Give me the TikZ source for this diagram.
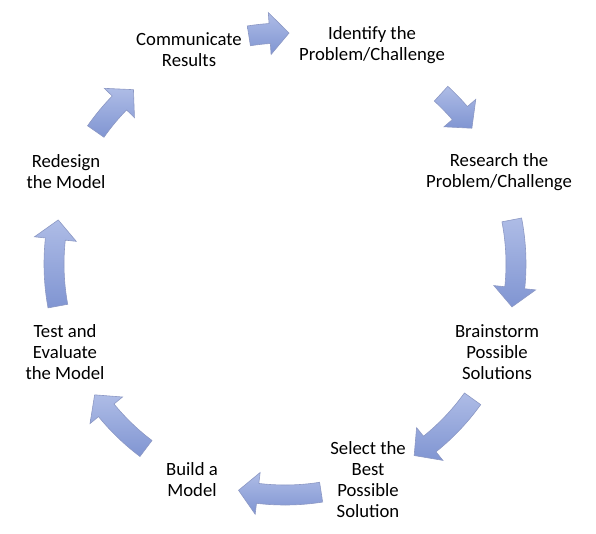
\documentclass[tikz,border=0pt]{standalone}
\usepackage{fontspec}
\setmainfont{Carlito}
\usetikzlibrary{calc}

\definecolor{arrowlight}{RGB}{174,188,230}
\definecolor{arrowdark}{RGB}{128,149,210}
\definecolor{arrowline}{RGB}{140,152,196}

% curved block arrow round (c), from angle #1 to the tip at angle #2
\newcommand\cyclearrow[2]{%
  \pgfmathsetmacro\headbase{#2-4.8}%
  \path[arrowbody] ($(c)+(#1:241)$) arc[start angle=#1, end angle=\headbase, radius=241]
    -- ($(c)+(\headbase:252)$) -- ($(c)+(#2:231)$) -- ($(c)+(\headbase:210)$)
    -- ($(c)+(\headbase:221)$) arc[start angle=\headbase, end angle=#1, radius=221] -- cycle;}

\begin{document}
\begin{tikzpicture}[
    x=1pt, y=-1pt,
    stage/.style={align=center, inner sep=0pt, font=\fontsize{18.7}{21}\selectfont},
    arrowbody/.style={top color=arrowlight, bottom color=arrowdark, draw=arrowline, line width=0.6pt}
]
  \useasboundingbox (0,0) rectangle (596,533);
  \coordinate (c) at (285,264);

  \node[stage] (identify) at (372,45) {Identify the\\Problem/Challenge};
  \node[stage] (research) at (499,172) {Research the\\Problem/Challenge};
  \node[stage] (brainstorm) at (497,352) {Brainstorm\\Possible\\Solutions};
  \node[stage] (select) at (368,480) {Select the\\Best\\Possible\\Solution};
  \node[stage] (build) at (192,480) {Build a\\Model};
  \node[stage] (test) at (65,352) {Test and\\Evaluate\\the Model};
  \node[stage] (redesign) at (66,172) {Redesign\\the Model};
  \node[stage] (communicate) at (189,50) {Communicate\\Results};

  % the arrows between the stages
  \cyclearrow{-99}{-89}
  \cyclearrow{-47.5}{-36}
  \cyclearrow{-11}{10.7}
  \cyclearrow{35.7}{56}
  \cyclearrow{81}{101.6}
  \cyclearrow{127}{145.5}
  \cyclearrow{169.5}{191}
  \cyclearrow{215}{229}
\end{tikzpicture}
\end{document}
